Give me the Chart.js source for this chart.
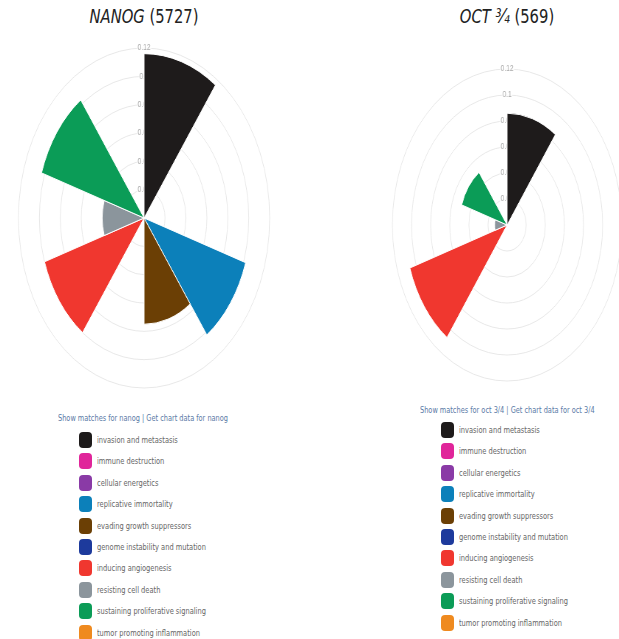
<!DOCTYPE html>
<html>
<head>
<meta charset="utf-8">
<script src="https://cdn.jsdelivr.net/npm/chart.js@4/dist/chart.umd.min.js"></script>
<style>
  body { margin: 0; background: #fff; width: 619px; height: 639px; position: relative; overflow: hidden; font-family: "DejaVu Sans Condensed", "Liberation Sans Narrow", sans-serif; }
  .title { position: absolute; top: 4px; font-size: 20px; color: #222; white-space: nowrap; transform: translateX(-50%) scaleX(0.82); }
  .title i { font-style: italic; }
  .squash { position: absolute; transform-origin: 0 0; }
  .links { position: absolute; font-size: 9.5px; color: #5a7aa6; white-space: nowrap; transform-origin: 0 0; transform: scaleX(0.77); }
  .legend { position: absolute; list-style: none; margin: 0; padding: 0; }
  .legend li { height: 21.4px; position: relative; font-size: 9.5px; color: #666; white-space: nowrap; }
  .legend li span.sw { position: absolute; left: 0; top: 2px; width: 13px; height: 16px; border-radius: 4px; }
  .legend li span.tx { position: absolute; left: 18px; top: 4px; transform-origin: 0 0; transform: scaleX(0.78); }
</style>
</head>
<body>
<div class="title" style="left:144px"><i>NANOG</i> (5727)</div>
<div class="title" style="left:507px"><i>OCT ¾</i> (569)</div>

<div class="squash" style="left:13.5px; top:42px; transform: scaleX(0.739);">
  <canvas id="nanog" width="352" height="352"></canvas>
</div>
<div class="squash" style="left:388px; top:63px; transform: scaleX(0.735);">
  <canvas id="oct" width="324" height="324"></canvas>
</div>

<div class="links" style="left:58px; top:412px">Show matches for nanog | Get chart data for nanog</div>
<ul class="legend" id="legendNanog" style="left:79px; top:430px"></ul>
<div class="links" style="left:420px; top:404px">Show matches for oct 3/4 | Get chart data for oct 3/4</div>
<ul class="legend" id="legendOct" style="left:441px; top:420px"></ul>

<script>
const categories = [
  'invasion and metastasis',
  'immune destruction',
  'cellular energetics',
  'replicative immortality',
  'evading growth suppressors',
  'genome instability and mutation',
  'inducing angiogenesis',
  'resisting cell death',
  'sustaining proliferative signaling',
  'tumor promoting inflammation'
];
const colors = ['#1e1b1b', '#e0259a', '#8a3aa6', '#0c80ba', '#6b3f05', '#1d3a9c', '#f0372f', '#8b959c', '#0b9c57', '#ef8a1f'];
const nanogValues = [0.116, 0, 0, 0.102, 0.075, 0, 0.100, 0.040, 0.103, 0];
const octValues = [0.086, 0, 0, 0, 0, 0, 0.107, 0.013, 0.050, 0];
const scaleMax = 0.12;
const scaleStep = 0.02;

function makeChart(id, values) {
  return new Chart(document.getElementById(id), {
    type: 'polarArea',
    data: {
      labels: categories,
      datasets: [{
        data: values,
        backgroundColor: colors,
        borderColor: '#fff',
        borderWidth: 1
      }]
    },
    options: {
      responsive: false,
      animation: false,
      plugins: { legend: { display: false }, tooltip: { enabled: false } },
      scales: {
        r: {
          min: 0,
          max: scaleMax,
          grid: { color: '#e8e8e8' },
          ticks: {
            stepSize: scaleStep,
            color: '#aaa',
            font: { size: 9 },
            backdropPadding: 1,
            callback: (v) => String(+v.toFixed(2))
          }
        }
      }
    }
  });
}

makeChart('nanog', nanogValues);
makeChart('oct', octValues);

function makeLegend(id) {
  const ul = document.getElementById(id);
  categories.forEach((c, i) => {
    const li = document.createElement('li');
    li.innerHTML = '<span class="sw" style="background:' + colors[i] + '"></span><span class="tx">' + c + '</span>';
    ul.appendChild(li);
  });
}
makeLegend('legendNanog');
makeLegend('legendOct');
</script>
</body>
</html>
